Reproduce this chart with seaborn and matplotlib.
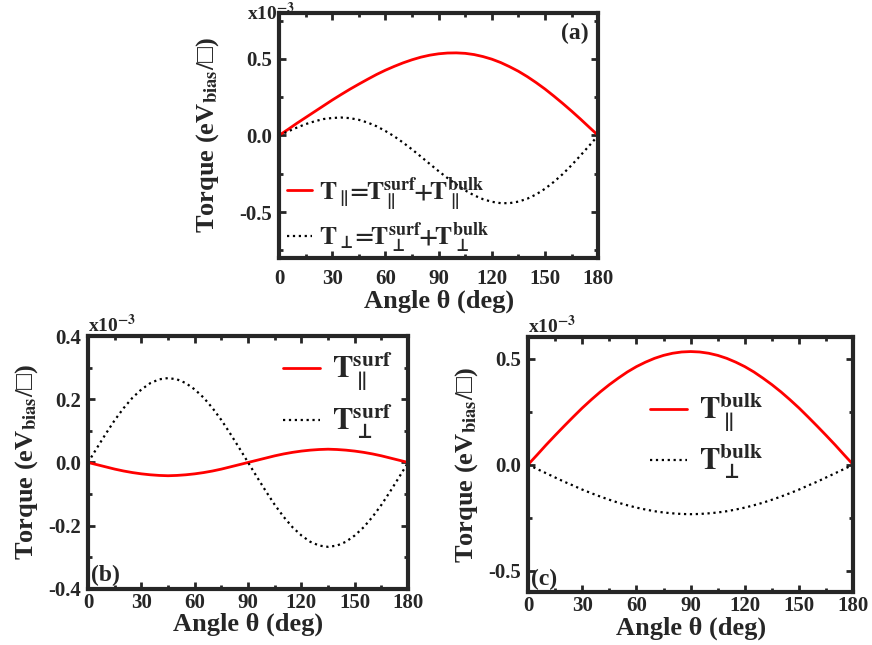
import matplotlib
matplotlib.use("Agg")
import matplotlib.pyplot as plt
import seaborn as sns
from matplotlib.ticker import MultipleLocator, FormatStrFormatter

# angle grid (deg) and torque values (x1e-3 eV_bias/square)
angle = list(range(0, 181, 5))

surf_par = [0, -0.007, -0.014, -0.021, -0.027, -0.032, -0.036, -0.039, -0.041, -0.042,
            -0.041, -0.039, -0.036, -0.032, -0.027, -0.021, -0.014, -0.007, 0,
            0.007, 0.014, 0.021, 0.027, 0.032, 0.036, 0.039, 0.041, 0.042,
            0.041, 0.039, 0.036, 0.032, 0.027, 0.021, 0.014, 0.007, 0]
surf_perp = [0, 0.046, 0.091, 0.134, 0.172, 0.205, 0.231, 0.251, 0.263, 0.267,
             0.263, 0.251, 0.231, 0.205, 0.172, 0.134, 0.091, 0.046, 0,
             -0.046, -0.091, -0.134, -0.172, -0.205, -0.231, -0.251, -0.263, -0.267,
             -0.263, -0.251, -0.231, -0.205, -0.172, -0.134, -0.091, -0.046, 0]
bulk_par = [0, 0.046, 0.093, 0.138, 0.182, 0.225, 0.267, 0.306, 0.343, 0.377,
            0.408, 0.437, 0.462, 0.483, 0.501, 0.515, 0.525, 0.531, 0.533,
            0.531, 0.525, 0.515, 0.501, 0.483, 0.462, 0.437, 0.408, 0.377,
            0.343, 0.306, 0.267, 0.225, 0.182, 0.138, 0.093, 0.046, 0]
bulk_perp = [0, -0.020, -0.040, -0.060, -0.080, -0.098, -0.117, -0.134, -0.150, -0.165,
             -0.179, -0.191, -0.202, -0.211, -0.219, -0.225, -0.229, -0.232, -0.233,
             -0.232, -0.229, -0.225, -0.219, -0.211, -0.202, -0.191, -0.179, -0.165,
             -0.150, -0.134, -0.117, -0.098, -0.080, -0.060, -0.040, -0.020, 0]
total_par = [0, 0.039, 0.079, 0.117, 0.155, 0.193, 0.231, 0.267, 0.302, 0.335,
             0.367, 0.398, 0.426, 0.451, 0.474, 0.494, 0.511, 0.524, 0.533,
             0.538, 0.539, 0.536, 0.528, 0.515, 0.498, 0.476, 0.449, 0.419,
             0.384, 0.345, 0.303, 0.257, 0.209, 0.159, 0.107, 0.053, 0]
total_perp = [0, 0.026, 0.051, 0.074, 0.092, 0.107, 0.114, 0.117, 0.113, 0.102,
              0.084, 0.060, 0.029, -0.006, -0.047, -0.091, -0.138, -0.186, -0.233,
              -0.278, -0.320, -0.359, -0.391, -0.416, -0.433, -0.442, -0.442, -0.432,
              -0.413, -0.385, -0.348, -0.303, -0.252, -0.194, -0.131, -0.066, 0]

x_ticks = [0, 30, 60, 90, 120, 150, 180]

sns.set_style("ticks")
plt.rcParams['font.family'] = ['Liberation Serif', 'DejaVu Serif', 'DejaVu Sans']
plt.rcParams['font.weight'] = 'bold'
plt.rcParams['axes.labelweight'] = 'bold'
plt.rcParams['mathtext.fontset'] = 'stix'
plt.rcParams['axes.unicode_minus'] = False

fig = plt.figure(figsize=(8.72, 6.45), dpi=100)
ax_a = fig.add_axes([0.320, 0.600, 0.366, 0.380])
ax_b = fig.add_axes([0.101, 0.087, 0.367, 0.392])
ax_c = fig.add_axes([0.6055, 0.082, 0.373, 0.395])

red = '#ff0000'
ylab = 'Torque (eV$_{\\mathbf{bias}}$/□)'
scale = 'x10$^{\\mathbf{-3}}$'


def style(ax, ylim, ymaj, ymin, xpad, ylpad):
    ax.set_xlim(0, 180)
    ax.set_ylim(*ylim)
    ax.set_xticks(x_ticks)
    ax.xaxis.set_minor_locator(MultipleLocator(15))
    ax.yaxis.set_major_locator(MultipleLocator(ymaj))
    ax.yaxis.set_minor_locator(MultipleLocator(ymin))
    ax.yaxis.set_major_formatter(FormatStrFormatter('%.1f'))
    ax.tick_params(which='both', direction='in', top=True, right=True, width=2,
                   labelsize=15, pad=5)
    ax.tick_params(axis='x', pad=xpad)
    ax.tick_params(which='major', length=5)
    ax.tick_params(which='minor', length=3)
    for s in ax.spines.values():
        s.set_linewidth(3)
    ax.set_xlabel('Angle θ (deg)', fontsize=19, labelpad=0)
    ax.set_ylabel(ylab, fontsize=19, labelpad=ylpad)


def leg_font(size):
    return {'size': size, 'weight': 'normal'}


# (a) total torques
sns.lineplot(x=angle, y=total_par, ax=ax_a, color=red, lw=2,
             label=r'$\mathbf{T}_{\parallel}\!\!=\!\!\mathbf{T}_{\parallel}^{\mathbf{surf}}\!\!+\!\!\mathbf{T}_{\parallel}^{\mathbf{bulk}}$')
sns.lineplot(x=angle, y=total_perp, ax=ax_a, color='black', lw=1.6, linestyle=':',
             label=r'$\mathbf{T}_{\bot}\!\!=\!\!\mathbf{T}_{\bot}^{\mathbf{surf}}\!\!+\!\!\mathbf{T}_{\bot}^{\mathbf{bulk}}$')
style(ax_a, (-0.8, 0.8), 0.5, 0.25, 8, 13)
ax_a.legend(loc='lower left', prop=leg_font(18.5), frameon=False, handlelength=1.0,
            handletextpad=0.25, labelspacing=0.3, borderaxespad=0.0, borderpad=0.3,
            bbox_to_anchor=(0.0, -0.02))
ax_a.text(0.97, 0.96, '(a)', transform=ax_a.transAxes, ha='right', va='top', fontsize=17)
ax_a.text(-0.1, 1.0, scale, transform=ax_a.transAxes, ha='left', va='center', fontsize=14)

# (b) surface contributions
sns.lineplot(x=angle, y=surf_par, ax=ax_b, color=red, lw=2,
             label=r'$\mathbf{T}_{\parallel}^{\mathbf{surf}}$')
sns.lineplot(x=angle, y=surf_perp, ax=ax_b, color='black', lw=1.6, linestyle=':',
             label=r'$\mathbf{T}_{\bot}^{\mathbf{surf}}$')
style(ax_b, (-0.4, 0.4), 0.2, 0.1, 3, 6)
ax_b.legend(loc='upper right', prop=leg_font(22), frameon=False, handlelength=1.2,
            handletextpad=0.4, labelspacing=0.3, borderaxespad=0.1)
ax_b.text(0.01, 0.01, '(b)', transform=ax_b.transAxes, ha='left', va='bottom', fontsize=17)
ax_b.text(0.0, 1.0, scale, transform=ax_b.transAxes, ha='left', va='bottom', fontsize=14)

# (c) bulk contributions
sns.lineplot(x=angle, y=bulk_par, ax=ax_c, color=red, lw=2,
             label=r'$\mathbf{T}_{\parallel}^{\mathbf{bulk}}$')
sns.lineplot(x=angle, y=bulk_perp, ax=ax_c, color='black', lw=1.6, linestyle=':',
             label=r'$\mathbf{T}_{\bot}^{\mathbf{bulk}}$')
style(ax_c, (-0.6, 0.6), 0.5, 0.25, 3, 6)
ax_c.legend(loc='center', prop=leg_font(22), frameon=False, handlelength=1.2,
            handletextpad=0.4, labelspacing=0.3, bbox_to_anchor=(0.55, 0.61))
ax_c.text(0.01, 0.01, '(c)', transform=ax_c.transAxes, ha='left', va='bottom', fontsize=17)
ax_c.text(0.0, 1.0, scale, transform=ax_c.transAxes, ha='left', va='bottom', fontsize=14)

fig.savefig('out.png', dpi=100)
